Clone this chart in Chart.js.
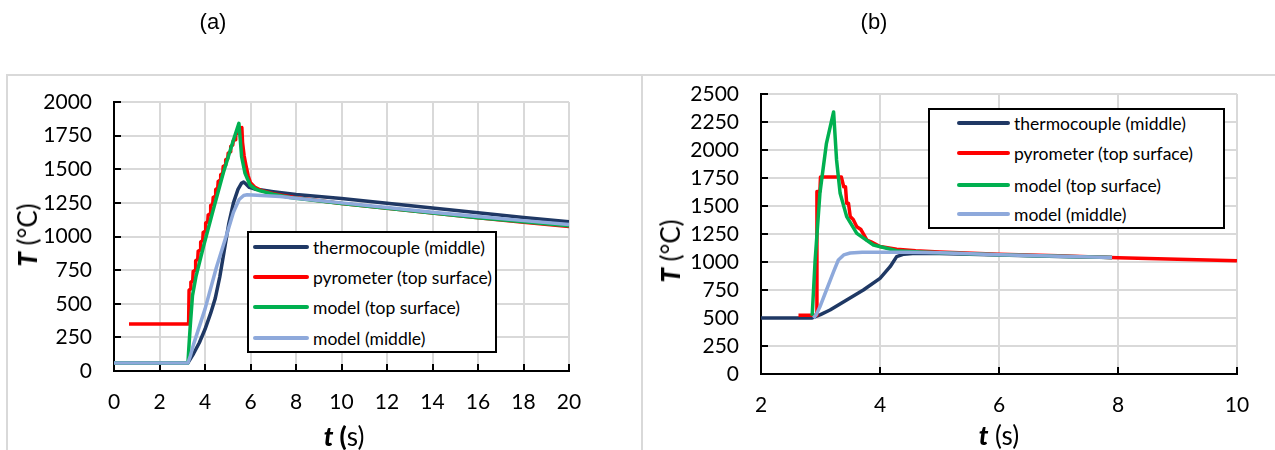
<!DOCTYPE html>
<html><head><meta charset="utf-8">
<script src="https://cdn.jsdelivr.net/npm/chart.js@4/dist/chart.umd.min.js"></script>
<style>
html,body{margin:0;padding:0;background:#fff;}
body{width:1275px;height:450px;position:relative;overflow:hidden;font-family:Lato,sans-serif;color:#000;}
.abs{position:absolute;}
canvas{position:absolute;top:0;}
.panel{font-family:"Liberation Sans",Arial,sans-serif;font-size:22px;transform:translate(-50%,-50%);white-space:nowrap;}
.ytitle{font-size:26px;transform:translate(-50%,-50%) rotate(-90deg);white-space:nowrap;}
.xtitle{font-size:26px;transform:translate(-50%,-50%);white-space:nowrap;}
.ytitle b,.xtitle b{font-weight:900;}
.ytitle em,.xtitle em{font-style:italic;}
.legend{position:absolute;background:#fff;border:2px solid #000;box-sizing:border-box;}
.row{position:absolute;height:22px;display:flex;align-items:center;font-size:17.5px;white-space:nowrap;transform:translateY(-50%);}
.row i{display:inline-block;height:4px;margin-right:4px;border-radius:2px;}
.gl{position:absolute;background:#d9d9d9;}
</style></head>
<body>
<div class="gl" style="left:7px;top:74px;width:1268px;height:2px;"></div>
<div class="gl" style="left:6px;top:74px;width:2px;height:376px;"></div>
<div class="gl" style="left:641px;top:74px;width:2px;height:376px;"></div>
<canvas id="ca" width="642" height="450" style="left:0px;"></canvas>
<canvas id="cb" width="632" height="450" style="left:643px;"></canvas>
<div class="abs panel" style="left:213px;top:22px;">(a)</div>
<div class="abs panel" style="left:874px;top:22px;">(b)</div>
<div class="abs ytitle" style="left:27px;top:235px;"><b><em>T</em></b> (°C)</div>
<div class="abs ytitle" style="left:670px;top:251px;"><b><em>T</em></b> (°C)</div>
<div class="abs xtitle" style="left:344px;top:436px;"><b><em>t</em> (</b>s)</div>
<div class="abs xtitle" style="left:999px;top:435px;"><b><em>t</em></b> (s)</div>
<div id="lega" class="legend" style="left:247px;top:231px;width:250px;height:122px;"></div>
<div id="legb" class="legend" style="left:928px;top:108px;width:297px;height:121px;"></div>
<script>
// ---- series names & colours ----
const seriesNames = ["thermocouple (middle)", "pyrometer (top surface)", "model (top surface)", "model (middle)"];
const seriesColors = ["#1F3864", "#FF0000", "#00B050", "#8EA9DB"];

// ---- axis ticks ----
const xTicksA = [0, 2, 4, 6, 8, 10, 12, 14, 16, 18, 20];
const yTicksA = [0, 250, 500, 750, 1000, 1250, 1500, 1750, 2000];
const xTicksB = [2, 4, 6, 8, 10];
const yTicksB = [0, 250, 500, 750, 1000, 1250, 1500, 1750, 2000, 2250, 2500];

// ---- panel (a) data ----
const tcA_t = [0, 3.25, 3.5, 3.75, 4.0, 4.25, 4.45, 4.65, 4.85, 5.05, 5.25, 5.45, 5.6, 5.7, 5.8, 5.95, 6.2, 6.5, 7, 8, 10, 12, 14, 16, 18, 20];
const tcA_T = [60, 60, 130, 210, 310, 430, 540, 700, 900, 1100, 1250, 1350, 1395, 1405, 1390, 1365, 1352, 1345, 1333, 1312, 1282, 1247, 1212, 1176, 1142, 1110];

const pyA_t = [0.66, 3.28, 3.3, 3.36, 3.38, 3.46, 3.48, 3.57, 3.59, 3.68, 3.7, 3.79, 3.81, 3.9, 3.92, 4.01, 4.03, 4.12, 4.14, 4.23, 4.25, 4.34, 4.36, 4.45, 4.47, 4.56, 4.58, 4.67, 4.69, 4.78, 4.8, 4.89, 4.91, 5.0, 5.02, 5.11, 5.13, 5.22, 5.24, 5.33, 5.35, 5.44, 5.46, 5.62, 5.65, 5.72, 5.8, 5.9, 6.0, 6.2, 6.5, 7, 8, 10, 12, 14, 16, 18, 20];
const pyA_T = [350, 350, 600, 610, 660, 670, 740, 750, 820, 830, 890, 900, 960, 970, 1030, 1040, 1100, 1110, 1160, 1170, 1230, 1240, 1290, 1300, 1350, 1360, 1410, 1420, 1460, 1470, 1520, 1530, 1570, 1580, 1620, 1630, 1670, 1680, 1710, 1720, 1760, 1770, 1800, 1810, 1700, 1600, 1530, 1450, 1400, 1365, 1340, 1318, 1288, 1245, 1210, 1175, 1140, 1105, 1075];

const mtA_t = [0, 3.25, 3.3, 3.35, 3.45, 3.6, 3.93, 4.36, 4.8, 5.25, 5.49, 5.55, 5.61, 5.76, 5.98, 6.2, 6.42, 7, 7.74, 8, 10, 12, 14, 16, 18, 20];
const mtA_T = [60, 60, 200, 330, 560, 700, 924, 1197, 1470, 1717, 1841, 1720, 1593, 1470, 1383, 1355, 1340, 1315, 1290, 1285, 1245, 1210, 1175, 1140, 1110, 1080];

const mmA_t = [0, 3.25, 3.35, 3.5, 3.75, 4.0, 4.5, 5.0, 5.25, 5.5, 5.7, 5.85, 6.5, 7.3, 8, 10, 12, 14, 16, 18, 20];
const mmA_T = [60, 60, 110, 200, 330, 460, 770, 1040, 1180, 1275, 1305, 1310, 1305, 1298, 1285, 1250, 1215, 1180, 1148, 1118, 1090];

// ---- panel (b) data ----
const tcB_t = [2, 2.85, 3.0, 3.16, 3.44, 3.72, 4.0, 4.17, 4.28, 4.4, 4.6, 5, 6, 7, 7.9];
const tcB_T = [500, 500, 530, 571, 661, 750, 854, 958, 1048, 1070, 1078, 1075, 1062, 1050, 1040];

const pyB_t = [2.63, 2.93, 2.94, 2.99, 3.0, 3.35, 3.39, 3.42, 3.44, 3.47, 3.5, 3.55, 3.61, 3.68, 3.78, 3.85, 4.0, 4.28, 4.6, 5, 6, 7, 8, 9, 10];
const pyB_T = [525, 525, 1630, 1630, 1760, 1760, 1672, 1672, 1524, 1524, 1405, 1380, 1315, 1290, 1196, 1180, 1138, 1113, 1100, 1090, 1070, 1055, 1038, 1025, 1012];

const mtB_t = [2.86, 2.91, 2.99, 3.1, 3.22, 3.27, 3.33, 3.44, 3.61, 3.89, 4.28, 4.67, 5, 6, 7, 7.9];
const mtB_T = [520, 1018, 1613, 2060, 2340, 1911, 1613, 1405, 1256, 1152, 1101, 1090, 1083, 1065, 1052, 1040];

const mmB_t = [2.88, 2.93, 2.99, 3.1, 3.22, 3.3, 3.39, 3.5, 3.7, 4.5, 5, 6, 7, 7.9];
const mmB_T = [500, 530, 600, 750, 914, 1018, 1063, 1080, 1088, 1088, 1082, 1065, 1052, 1040];

function pts(t, v) { return t.map((x, i) => ({ x: x, y: v[i] })); }

const insideTicks = {
  id: 'insideTicks',
  beforeDatasetsDraw(chart) {
    const { ctx, chartArea: a, scales: { x, y } } = chart;
    ctx.save();
    ctx.strokeStyle = '#000';
    ctx.lineWidth = 2;
    x.ticks.forEach(t => { const p = Math.round(x.getPixelForValue(t.value)); ctx.beginPath(); ctx.moveTo(p, a.bottom); ctx.lineTo(p, a.bottom - 7); ctx.stroke(); });
    y.ticks.forEach(t => { const p = Math.round(y.getPixelForValue(t.value)); ctx.beginPath(); ctx.moveTo(a.left, p); ctx.lineTo(a.left + 7, p); ctx.stroke(); });
    ctx.restore();
  }
};

function makeChart(id, series, xt, yt, yW, xH, pad) {
  const datasets = series.map((s, i) => ({
    label: seriesNames[i],
    data: pts(s[0], s[1]),
    borderColor: seriesColors[i],
    backgroundColor: seriesColors[i],
    borderWidth: 3.5,
    pointRadius: 0,
    tension: 0,
    fill: false,
    borderJoinStyle: 'round',
    order: 4 - i
  }));
  const tickFont = { family: 'Lato', size: 21 };
  const plain = v => String(v);
  return new Chart(document.getElementById(id), {
    type: 'line',
    data: { datasets: datasets },
    options: {
      responsive: false,
      animation: false,
      devicePixelRatio: 1,
      layout: { padding: pad },
      plugins: { legend: { display: false }, tooltip: { enabled: false } },
      scales: {
        x: {
          type: 'linear', min: xt[0], max: xt[xt.length - 1],
          afterBuildTicks: s => { s.ticks = xt.map(v => ({ value: v })); },
          afterFit: s => { s.height = xH; },
          grid: { color: '#d9d9d9', lineWidth: 2, drawTicks: false },
          border: { color: '#000', width: 2 },
          ticks: { font: tickFont, color: '#000', padding: 19, maxRotation: 0, autoSkip: false, callback: plain }
        },
        y: {
          type: 'linear', min: yt[0], max: yt[yt.length - 1],
          afterBuildTicks: s => { s.ticks = yt.map(v => ({ value: v })); },
          afterFit: s => { s.width = yW; },
          grid: { color: '#d9d9d9', lineWidth: 2, drawTicks: false },
          border: { color: '#000', width: 2 },
          ticks: { font: tickFont, color: '#000', padding: 22, autoSkip: false, callback: plain }
        }
      }
    },
    plugins: [insideTicks]
  });
}

makeChart('ca', [[tcA_t, tcA_T], [pyA_t, pyA_T], [mtA_t, mtA_T], [mmA_t, mmA_T]], xTicksA, yTicksA, 114, 79, { left: 0, top: 102, right: 73, bottom: 0 });
makeChart('cb', [[tcB_t, tcB_T], [pyB_t, pyB_T], [mtB_t, mtB_T], [mmB_t, mmB_T]], xTicksB, yTicksB, 118, 76, { left: 0, top: 94, right: 38, bottom: 0 });

function buildLegend(id, sampleLeft, sampleW, rowYs) {
  const box = document.getElementById(id);
  seriesNames.forEach((n, i) => {
    const r = document.createElement('div');
    r.className = 'row';
    r.style.left = sampleLeft + 'px';
    r.style.top = rowYs[i] + 'px';
    const s = document.createElement('i');
    s.style.width = sampleW + 'px';
    s.style.background = seriesColors[i];
    r.appendChild(s);
    r.appendChild(document.createTextNode(n));
    box.appendChild(r);
  });
}
buildLegend('lega', 4, 56, [14, 44, 74, 105]);
buildLegend('legb', 27, 53, [13, 43, 75, 104]);
</script>
</body></html>
